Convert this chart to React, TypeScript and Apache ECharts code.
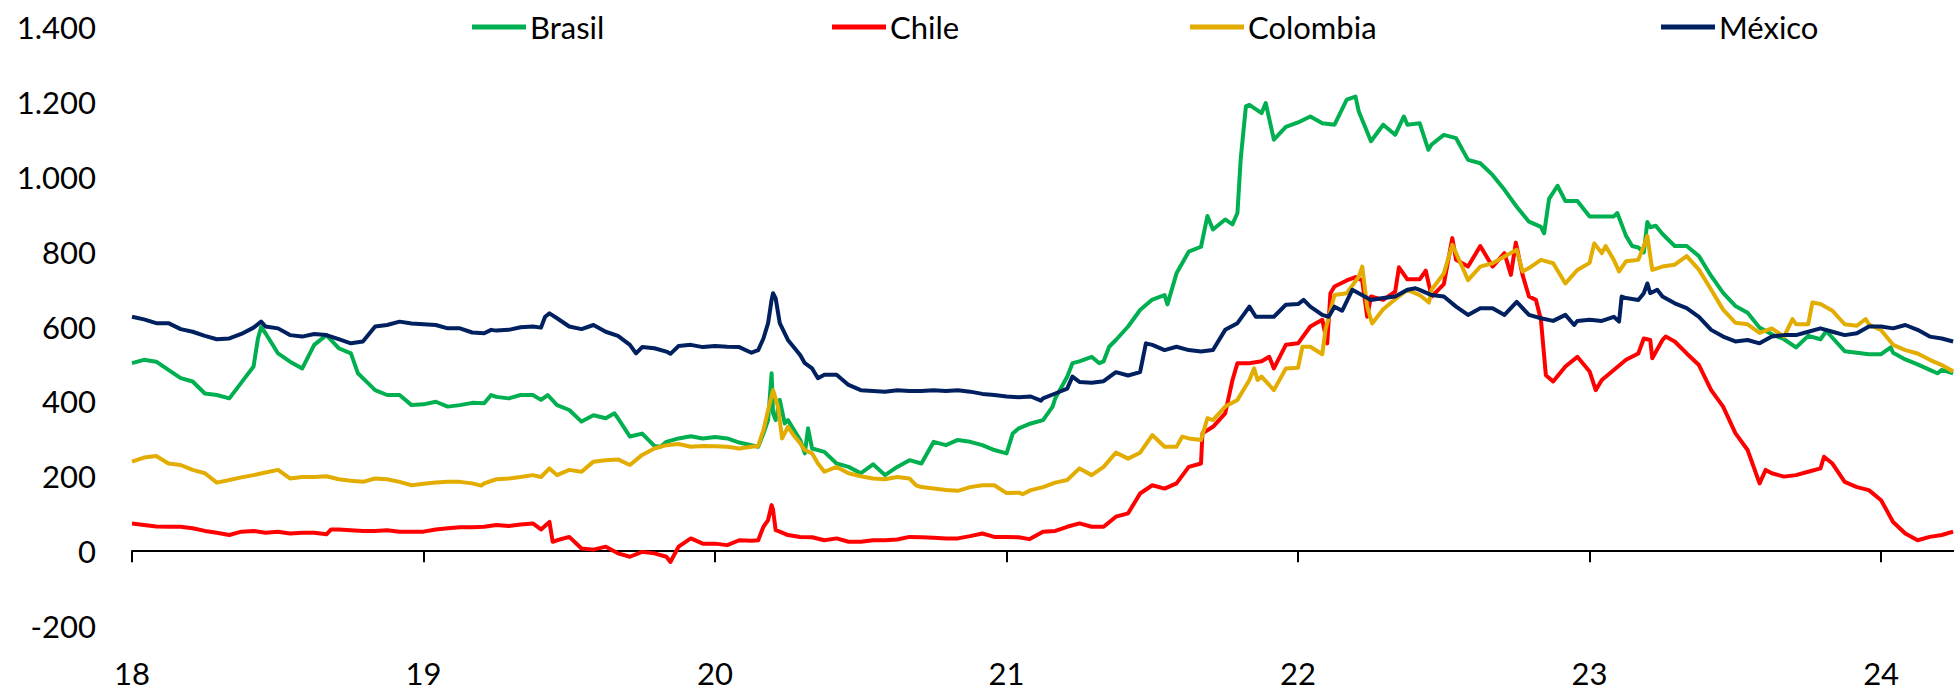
import { useEffect, useRef } from "react";
import * as echarts from "echarts";

// x = year (decimal, two-digit year), y = value
const yearTicks = [18, 19, 20, 21, 22, 23, 24];
const seriesNames = ["Brasil", "Chile", "Colombia", "México"];
const seriesColors = ["#00B050", "#FF0000", "#E2AC00", "#002060"];

const brasil: [number, number][] = [
  [18.0, 502], [18.041, 511], [18.083, 506], [18.125, 484], [18.167, 462], [18.208, 453], [18.25, 421], [18.291, 417], [18.334, 408], [18.375, 450], [18.417, 493], [18.432, 568], [18.443, 598], [18.458, 582], [18.501, 528], [18.542, 506], [18.584, 488], [18.625, 551], [18.667, 577], [18.709, 542], [18.751, 528], [18.775, 475], [18.792, 462], [18.834, 430], [18.875, 417], [18.918, 417], [18.959, 390],
  [19.0, 392], [19.042, 399], [19.083, 386], [19.125, 390], [19.167, 396], [19.208, 395], [19.232, 417], [19.25, 412], [19.292, 408], [19.333, 417], [19.375, 417], [19.403, 404], [19.426, 417], [19.458, 390], [19.5, 377], [19.542, 346], [19.583, 363], [19.625, 355], [19.655, 368], [19.667, 355], [19.708, 306], [19.75, 314], [19.792, 281], [19.813, 279], [19.833, 292], [19.875, 301], [19.917, 307], [19.958, 301],
  [20.0, 305], [20.042, 301], [20.083, 290], [20.125, 283], [20.148, 279], [20.166, 314], [20.182, 350], [20.194, 475], [20.199, 368], [20.208, 350], [20.222, 404], [20.239, 341], [20.25, 350], [20.292, 297], [20.308, 261], [20.319, 328], [20.333, 274], [20.375, 265], [20.417, 234], [20.458, 225], [20.5, 208], [20.542, 232], [20.583, 203], [20.625, 225], [20.667, 243], [20.708, 234], [20.75, 292], [20.792, 283], [20.833, 297], [20.875, 292], [20.917, 283], [20.958, 270],
  [21.0, 261], [21.021, 314], [21.042, 328], [21.083, 341], [21.125, 350], [21.158, 386], [21.167, 408], [21.208, 466], [21.226, 502], [21.25, 507], [21.292, 519], [21.318, 502], [21.333, 507], [21.352, 546], [21.375, 564], [21.417, 600], [21.458, 644], [21.5, 672], [21.542, 684], [21.552, 659], [21.583, 742], [21.625, 800], [21.667, 813], [21.689, 895], [21.708, 859], [21.75, 886], [21.775, 873], [21.792, 903], [21.803, 1046], [21.821, 1188], [21.833, 1192], [21.875, 1170], [21.889, 1197], [21.917, 1099], [21.958, 1133],
  [22.0, 1145], [22.042, 1161], [22.083, 1143], [22.125, 1139], [22.167, 1206], [22.197, 1214], [22.208, 1175], [22.25, 1095], [22.292, 1139], [22.333, 1112], [22.363, 1161], [22.375, 1139], [22.417, 1143], [22.447, 1072], [22.458, 1086], [22.5, 1112], [22.542, 1103], [22.583, 1045], [22.625, 1036], [22.667, 1005], [22.708, 965], [22.75, 920], [22.792, 880], [22.833, 866], [22.844, 849], [22.861, 941], [22.89, 976], [22.917, 935], [22.958, 935],
  [23.0, 894], [23.042, 894], [23.083, 894], [23.095, 903], [23.125, 842], [23.146, 815], [23.167, 811], [23.186, 798], [23.198, 879], [23.208, 865], [23.227, 869], [23.25, 847], [23.292, 815], [23.333, 815], [23.375, 788], [23.417, 735], [23.458, 690], [23.5, 655], [23.542, 637], [23.583, 597], [23.625, 579], [23.667, 566], [23.708, 544], [23.75, 575], [23.792, 566], [23.812, 588], [23.833, 570], [23.875, 534], [23.917, 530], [23.958, 526],
  [24.0, 526], [24.033, 544], [24.041, 530], [24.083, 512], [24.125, 499], [24.167, 484], [24.193, 475], [24.208, 484], [24.247, 475],
];

const chile: [number, number][] = [
  [18.0, 74], [18.041, 70], [18.083, 66], [18.125, 65], [18.167, 65], [18.208, 61], [18.25, 54], [18.291, 49], [18.334, 43], [18.375, 52], [18.417, 54], [18.458, 49], [18.501, 52], [18.542, 47], [18.584, 49], [18.625, 49], [18.667, 45], [18.683, 58], [18.709, 58], [18.751, 56], [18.792, 54], [18.834, 54], [18.875, 56], [18.918, 52], [18.959, 52],
  [19.0, 52], [19.042, 58], [19.083, 61], [19.125, 64], [19.167, 64], [19.208, 65], [19.25, 70], [19.292, 67], [19.333, 71], [19.375, 74], [19.403, 58], [19.432, 78], [19.443, 25], [19.458, 29], [19.5, 38], [19.542, 7], [19.583, 4], [19.625, 12], [19.667, -6], [19.708, -15], [19.75, -2], [19.792, -6], [19.833, -15], [19.847, -29], [19.875, 12], [19.917, 34], [19.958, 20],
  [20.0, 20], [20.042, 16], [20.083, 29], [20.125, 28], [20.148, 29], [20.166, 65], [20.182, 83], [20.194, 123], [20.199, 110], [20.208, 56], [20.222, 52], [20.25, 43], [20.292, 38], [20.333, 37], [20.375, 29], [20.417, 34], [20.458, 25], [20.5, 25], [20.542, 29], [20.583, 29], [20.625, 31], [20.667, 38], [20.708, 37], [20.75, 36], [20.792, 34], [20.833, 34], [20.875, 40], [20.917, 47], [20.958, 38],
  [21.0, 38], [21.042, 37], [21.078, 32], [21.125, 52], [21.167, 54], [21.208, 65], [21.25, 74], [21.292, 65], [21.333, 65], [21.375, 92], [21.417, 101], [21.458, 154], [21.5, 176], [21.542, 167], [21.583, 181], [21.625, 225], [21.667, 234], [21.672, 315], [21.708, 332], [21.75, 368], [21.775, 457], [21.792, 502], [21.833, 502], [21.875, 507], [21.901, 519], [21.917, 488], [21.958, 551],
  [22.0, 555], [22.042, 600], [22.083, 618], [22.1, 555], [22.111, 689], [22.125, 707], [22.167, 723], [22.197, 732], [22.22, 723], [22.237, 626], [22.25, 680], [22.292, 671], [22.333, 693], [22.346, 758], [22.375, 726], [22.417, 726], [22.438, 749], [22.458, 680], [22.5, 713], [22.529, 836], [22.542, 778], [22.583, 760], [22.625, 815], [22.667, 760], [22.708, 796], [22.73, 738], [22.747, 824], [22.77, 738], [22.792, 680], [22.816, 671], [22.833, 618], [22.85, 470], [22.875, 453], [22.917, 493], [22.958, 519],
  [23.0, 480], [23.021, 430], [23.042, 457], [23.083, 484], [23.125, 511], [23.167, 528], [23.186, 568], [23.208, 564], [23.215, 515], [23.25, 564], [23.261, 573], [23.292, 560], [23.333, 528], [23.375, 497], [23.417, 430], [23.458, 386], [23.5, 315], [23.542, 270], [23.583, 181], [23.604, 217], [23.625, 208], [23.667, 199], [23.708, 203], [23.75, 212], [23.792, 221], [23.804, 252], [23.833, 234], [23.875, 185], [23.917, 171], [23.958, 163],
  [24.0, 136], [24.041, 78], [24.083, 47], [24.125, 29], [24.167, 38], [24.208, 43], [24.247, 52],
];

const colombia: [number, number][] = [
  [18.0, 239], [18.041, 250], [18.083, 254], [18.125, 234], [18.167, 230], [18.208, 217], [18.25, 208], [18.291, 183], [18.334, 190], [18.375, 197], [18.417, 203], [18.458, 210], [18.501, 217], [18.542, 194], [18.584, 198], [18.625, 198], [18.667, 200], [18.709, 192], [18.751, 188], [18.792, 185], [18.834, 194], [18.875, 192], [18.918, 185], [18.959, 176],
  [19.0, 180], [19.042, 183], [19.083, 185], [19.125, 185], [19.167, 181], [19.198, 175], [19.208, 181], [19.25, 192], [19.292, 194], [19.333, 198], [19.375, 203], [19.403, 198], [19.432, 221], [19.458, 203], [19.5, 217], [19.542, 212], [19.583, 239], [19.625, 243], [19.667, 245], [19.708, 230], [19.75, 257], [19.792, 274], [19.833, 283], [19.875, 286], [19.917, 279], [19.958, 281],
  [20.0, 280], [20.042, 279], [20.083, 274], [20.125, 279], [20.148, 281], [20.166, 323], [20.182, 377], [20.199, 430], [20.216, 386], [20.23, 301], [20.25, 332], [20.273, 306], [20.292, 288], [20.308, 270], [20.333, 261], [20.353, 234], [20.375, 212], [20.417, 225], [20.458, 208], [20.5, 200], [20.542, 194], [20.583, 192], [20.625, 198], [20.667, 194], [20.689, 176], [20.708, 171], [20.75, 167], [20.792, 163], [20.833, 161], [20.875, 171], [20.917, 176], [20.958, 176],
  [21.0, 155], [21.042, 156], [21.055, 152], [21.083, 163], [21.125, 171], [21.167, 183], [21.208, 190], [21.25, 221], [21.292, 203], [21.333, 225], [21.375, 263], [21.417, 247], [21.458, 263], [21.5, 310], [21.542, 279], [21.583, 279], [21.603, 306], [21.625, 301], [21.667, 297], [21.689, 355], [21.708, 350], [21.75, 386], [21.792, 404], [21.833, 457], [21.849, 488], [21.861, 457], [21.875, 466], [21.917, 430], [21.958, 488],
  [22.0, 490], [22.015, 546], [22.042, 546], [22.083, 526], [22.094, 591], [22.125, 684], [22.167, 689], [22.208, 733], [22.22, 760], [22.237, 653], [22.254, 608], [22.292, 646], [22.333, 673], [22.375, 698], [22.417, 684], [22.449, 664], [22.458, 698], [22.5, 742], [22.529, 818], [22.542, 796], [22.583, 724], [22.625, 760], [22.667, 769], [22.708, 787], [22.75, 805], [22.77, 747], [22.792, 756], [22.833, 778], [22.875, 769], [22.917, 715], [22.958, 751],
  [23.0, 770], [23.016, 822], [23.042, 796], [23.055, 815], [23.083, 778], [23.101, 747], [23.125, 774], [23.167, 778], [23.186, 815], [23.198, 842], [23.215, 751], [23.25, 760], [23.292, 765], [23.333, 788], [23.375, 752], [23.417, 698], [23.458, 645], [23.5, 610], [23.542, 606], [23.583, 583], [23.625, 595], [23.667, 573], [23.696, 620], [23.708, 606], [23.75, 606], [23.764, 664], [23.792, 660], [23.833, 642], [23.875, 606], [23.917, 602], [23.947, 620], [23.958, 606],
  [24.0, 590], [24.041, 551], [24.083, 537], [24.125, 528], [24.167, 511], [24.208, 497], [24.247, 480],
];

const mexico: [number, number][] = [
  [18.0, 626], [18.041, 619], [18.083, 609], [18.125, 609], [18.167, 593], [18.208, 586], [18.25, 575], [18.291, 566], [18.334, 568], [18.375, 580], [18.417, 597], [18.443, 613], [18.458, 600], [18.501, 595], [18.542, 577], [18.584, 573], [18.625, 580], [18.667, 577], [18.709, 566], [18.751, 555], [18.792, 560], [18.834, 600], [18.875, 604], [18.918, 613], [18.959, 608],
  [19.0, 606], [19.042, 604], [19.083, 595], [19.125, 595], [19.167, 584], [19.208, 582], [19.232, 591], [19.25, 589], [19.292, 591], [19.333, 598], [19.375, 600], [19.403, 597], [19.417, 626], [19.432, 635], [19.458, 622], [19.5, 600], [19.542, 593], [19.583, 604], [19.625, 586], [19.667, 575], [19.708, 551], [19.729, 528], [19.75, 545], [19.792, 542], [19.833, 533], [19.847, 527], [19.875, 548], [19.917, 551], [19.958, 545],
  [20.0, 548], [20.042, 546], [20.083, 545], [20.125, 530], [20.148, 537], [20.166, 568], [20.182, 609], [20.194, 671], [20.199, 689], [20.208, 675], [20.222, 609], [20.25, 564], [20.292, 524], [20.308, 502], [20.333, 488], [20.353, 462], [20.375, 471], [20.417, 471], [20.458, 444], [20.5, 430], [20.542, 428], [20.583, 426], [20.625, 430], [20.667, 428], [20.708, 428], [20.75, 430], [20.792, 428], [20.833, 430], [20.875, 426], [20.917, 420], [20.958, 417],
  [21.0, 413], [21.042, 411], [21.083, 413], [21.118, 402], [21.125, 408], [21.167, 421], [21.208, 434], [21.226, 466], [21.25, 452], [21.292, 450], [21.333, 454], [21.375, 478], [21.417, 469], [21.458, 478], [21.478, 555], [21.5, 551], [21.542, 537], [21.583, 546], [21.625, 537], [21.667, 533], [21.708, 537], [21.75, 591], [21.792, 609], [21.833, 653], [21.855, 626], [21.875, 626], [21.917, 626], [21.958, 658],
  [22.0, 660], [22.019, 671], [22.042, 653], [22.083, 631], [22.105, 626], [22.125, 653], [22.151, 642], [22.186, 698], [22.208, 689], [22.25, 671], [22.292, 676], [22.333, 680], [22.375, 698], [22.403, 702], [22.417, 698], [22.458, 684], [22.5, 680], [22.542, 653], [22.583, 631], [22.625, 649], [22.667, 649], [22.708, 631], [22.75, 666], [22.792, 631], [22.833, 622], [22.875, 615], [22.917, 631], [22.947, 604], [22.958, 615],
  [23.0, 618], [23.042, 615], [23.083, 626], [23.101, 613], [23.11, 680], [23.125, 676], [23.167, 671], [23.186, 689], [23.198, 715], [23.208, 689], [23.232, 698], [23.25, 680], [23.292, 662], [23.333, 649], [23.375, 626], [23.417, 591], [23.458, 573], [23.5, 560], [23.542, 564], [23.583, 555], [23.625, 573], [23.667, 577], [23.708, 577], [23.75, 586], [23.792, 595], [23.833, 586], [23.875, 577], [23.917, 582], [23.958, 600],
  [24.0, 600], [24.041, 595], [24.083, 604], [24.125, 591], [24.167, 573], [24.208, 568], [24.247, 560],
];

const seriesData = [brasil, chile, colombia, mexico];
const legendLeft = [472, 832, 1190, 1661];

const FONT = "Lato, 'Open Sans', 'DejaVu Sans', sans-serif";

function fmtThousands(v: number): string {
  const s = String(Math.abs(v)).replace(/\B(?=(\d{3})+(?!\d))/g, ".");
  return (v < 0 ? "-" : "") + s;
}

export default function App() {
  const ref = useRef<HTMLDivElement>(null);
  useEffect(() => {
    if (!ref.current) return;
    const chart = echarts.init(ref.current, null, { renderer: "svg" });
    chart.setOption({
      animation: false,
      backgroundColor: "#ffffff",
      textStyle: { fontFamily: FONT },
      grid: { left: 132, right: 0, top: 27, bottom: 65, containLabel: false },
      legend: seriesNames.map((name, i) => ({
        data: [name],
        left: legendLeft[i],
        top: 10,
        icon: "rect",
        itemWidth: 54,
        itemHeight: 5,
        itemGap: 0,
        padding: 0,
        selectedMode: false,
        textStyle: { fontFamily: FONT, fontSize: 31, color: "#000", padding: [0, 0, 0, -1], lineHeight: 34 },
      })),
      xAxis: [
        {
          type: "value",
          min: 18,
          max: 24.25,
          position: "bottom",
          axisLine: { show: true, onZero: true, lineStyle: { color: "#000", width: 2 } },
          axisTick: { show: true, inside: false, length: 11, customValues: yearTicks, lineStyle: { color: "#000", width: 2 } },
          axisLabel: { show: false },
          splitLine: { show: false },
        },
        {
          type: "value",
          min: 18,
          max: 24.25,
          position: "bottom",
          axisLine: { show: false, onZero: false },
          axisTick: { show: false },
          axisLabel: {
            show: true,
            customValues: yearTicks,
            margin: 31,
            fontSize: 31,
            fontFamily: FONT,
            color: "#000",
            formatter: (v: number) => String(v),
          },
          splitLine: { show: false },
        },
      ],
      yAxis: {
        type: "value",
        min: -200,
        max: 1400,
        interval: 200,
        axisLine: { show: false },
        axisTick: { show: false },
        splitLine: { show: false },
        axisLabel: {
          margin: 36,
          fontSize: 31,
          fontFamily: FONT,
          color: "#000",
          formatter: (v: number) => fmtThousands(v),
        },
      },
      series: seriesNames.map((name, i) => ({
        name,
        type: "line",
        xAxisIndex: 0,
        yAxisIndex: 0,
        data: seriesData[i],
        symbol: "none",
        showSymbol: false,
        color: seriesColors[i],
        lineStyle: { color: seriesColors[i], width: 4, join: "round" },
        emphasis: { disabled: true },
      })),
    });
    return () => chart.dispose();
  }, []);
  return (
    <div
      ref={ref}
      style={{ position: "fixed", left: 0, top: 0, width: 1954, height: 691, background: "#fff" }}
    />
  );
}
